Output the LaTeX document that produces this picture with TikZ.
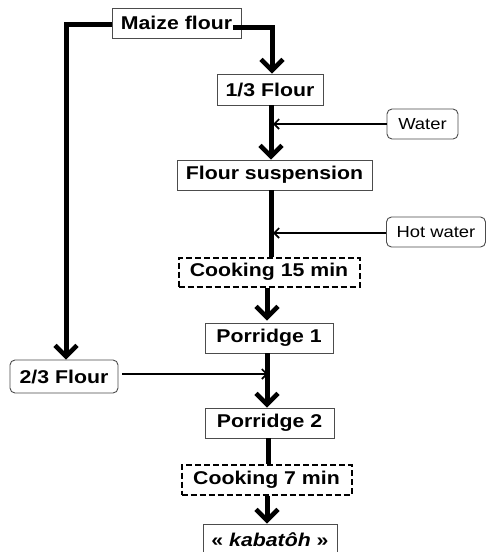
\documentclass[tikz,border=0pt]{standalone}
\usepackage{fontspec}
\setmainfont{Liberation Sans}[FakeStretch=1.15]
\usetikzlibrary{arrows.meta,calc}
\begin{document}
\begin{tikzpicture}[x=1pt,y=-1pt,
  box/.style={draw=black!70,line width=0.9pt,inner sep=0pt,align=center,
    font=\fontsize{18.5}{20}\selectfont\bfseries},
  rbox/.style={draw=black!70,line width=0.9pt,rounded corners=5pt,inner sep=0pt,align=center,
    font=\fontsize{16}{18}\selectfont},
  dbox/.style={draw=black,line width=2pt,dash pattern=on 6pt off 3pt,inner sep=0pt,align=center,
    font=\fontsize{18.5}{20}\selectfont\bfseries},
  thickline/.style={line width=5pt},
  thickarrow/.style={line width=5pt,-{Straight Barb[length=11pt,width=22pt,line width=4.5pt]}},
  thinarrow/.style={line width=2pt,-{Straight Barb[length=5pt,width=10pt,line width=1.6pt]}}
]
\useasboundingbox (0,0) rectangle (486,552);
\clip (0,0) rectangle (486,552);
\fill[white] (0,0) rectangle (486,552);

\node[box,minimum width=129pt,minimum height=30pt] (maize) at (176.5,23) {Maize flour};
\node[box,minimum width=106pt,minimum height=31pt] (f13) at (270,89.5) {1/3 Flour};
\node[rbox,minimum width=71pt,minimum height=30pt] (water) at (422.5,124) {Water};
\node[box,minimum width=195pt,minimum height=30pt] (susp) at (274.5,175) {Flour suspension};
\node[rbox,minimum width=99pt,minimum height=30pt] (hot) at (436,232) {Hot water};
\node[dbox,minimum width=181pt,minimum height=29pt] (c15) at (269,272) {Cooking 15 min};
\node[box,minimum width=128pt,minimum height=30pt] (p1) at (269,338) {Porridge 1};
\node[rbox,minimum width=108pt,minimum height=33pt,font=\fontsize{18.5}{20}\selectfont\bfseries] (f23) at (64,376.5) {2/3 Flour};
\node[box,minimum width=129pt,minimum height=30pt] (p2) at (269.5,423) {Porridge 2};
\node[dbox,minimum width=170pt,minimum height=30pt] (c7) at (266.5,479.5) {Cooking 7 min};
\node[box,minimum width=134pt,minimum height=32pt] (kab) at (270,540) {« \textit{kabatôh} »};

% left branch
\coordinate (mL) at (66,24);
\draw[thickarrow] (maize.west |- mL) -- (mL) -- (mL |- f23.north);
% right branch
\coordinate (mR1) at (233,27.5);
\coordinate (mR2) at (272,27.5);
\draw[thickarrow] (mR1) -- (mR2) -- (mR2 |- f13.north);

\coordinate (a1) at (271,0);
\draw[thickarrow] (a1 |- f13.south) -- (a1 |- susp.north);
\coordinate (w1) at (273,124);
\draw[thinarrow] (water.west) -- (w1);

\coordinate (a2) at (271,0);
\draw[thickline] (a2 |- susp.south) -- (a2 |- c15.north);
\coordinate (h1) at (273,233);
\draw[thinarrow] (hot.west |- h1) -- (h1);

\coordinate (a3) at (267,0);
\draw[thickarrow] (a3 |- c15.south) -- ($(a3 |- p1.north)+(0,-2)$);
\draw[thickarrow] (a3 |- p1.south) -- (a3 |- p2.north);
\coordinate (t1) at (268,374);
\draw[thinarrow] ($(f23.east)+(4,-2.5)$) -- (t1);

\coordinate (a4) at (268,0);
\draw[thickline] (a4 |- p2.south) -- (a4 |- c7.north);
\coordinate (a5) at (267,0);
\draw[thickarrow] (a5 |- c7.south) -- (a5 |- kab.north);
\end{tikzpicture}
\end{document}
